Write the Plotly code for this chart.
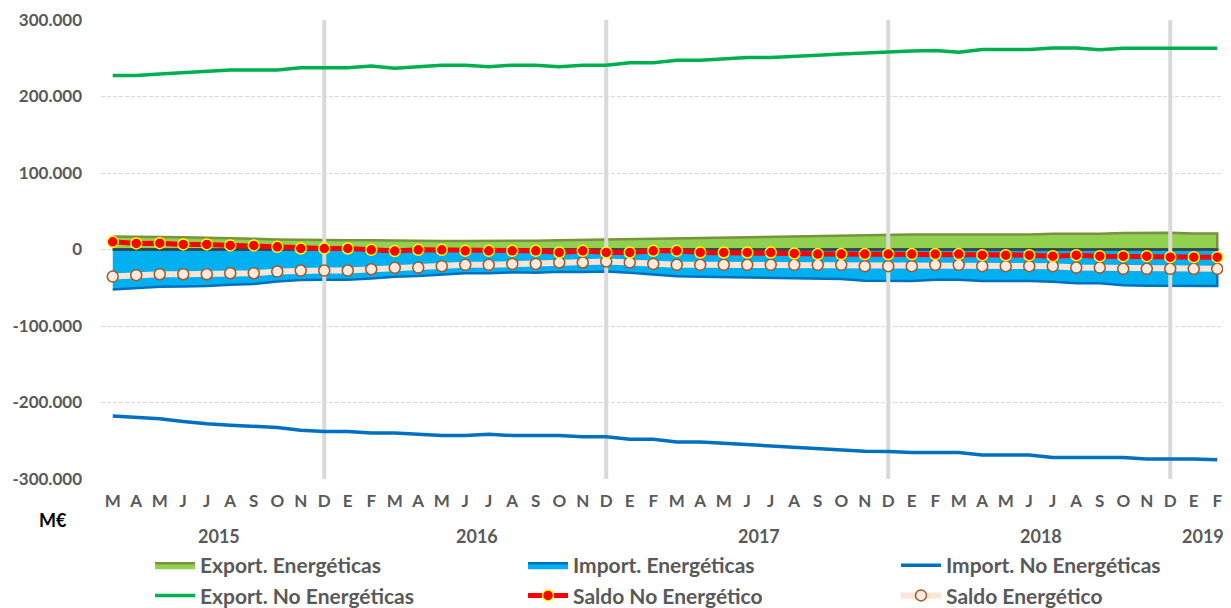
import plotly.graph_objects as go

# ---------------- data (M€) ----------------
months = ["M", "A", "M", "J", "J", "A", "S", "O", "N", "D",
          "E", "F", "M", "A", "M", "J", "J", "A", "S", "O", "N", "D",
          "E", "F", "M", "A", "M", "J", "J", "A", "S", "O", "N", "D",
          "E", "F", "M", "A", "M", "J", "J", "A", "S", "O", "N", "D",
          "E", "F"]
years = ["2015", "2016", "2017", "2018", "2019"]
year_centers = [4.5, 15.5, 27.5, 39.5, 46.4]
dividers = [9, 21, 33, 45]

export_e = [17000, 17000, 16500, 16000, 15500, 15000, 14000, 13000, 12500, 12000,
            12000, 12000, 11500, 11000, 11000, 11000, 11000, 11000, 11500, 12000, 12500, 13000,
            13500, 14000, 15000, 15500, 16000, 16500, 17000, 17500, 18000, 18500, 19000, 19500,
            19500, 19500, 19500, 19500, 19500, 19500, 20500, 20500, 20500, 21500, 22000, 22000,
            21000, 21000]
import_e = [-52400, -50600, -48800, -48300, -47800, -46000, -45000, -41800, -40000, -39500,
            -39500, -37800, -35500, -34600, -32800, -31000, -31000, -29800, -30300, -29000, -29500, -28700,
            -30500, -32800, -35000, -35500, -36000, -36500, -37000, -37500, -38000, -38500, -40800, -41300,
            -41300, -39500, -39500, -41300, -41300, -41300, -42300, -44100, -44100, -46800, -47300, -47300,
            -47300, -47800]
export_ne = [227600, 227600, 229300, 231000, 232800, 234500, 234500, 234500, 237500, 237500,
             237500, 240000, 237000, 239000, 241000, 241000, 239000, 241000, 241000, 239000, 241000, 241000,
             244000, 244000, 247500, 247500, 249500, 251000, 251000, 253000, 254000, 255500, 257000, 258000,
             259500, 260000, 258000, 261500, 261500, 261500, 263500, 263500, 261000, 263000, 263000, 263000,
             263000, 263000]
import_ne = [-217800, -219600, -221300, -224800, -227800, -229600, -231000, -232700, -236200, -237900,
             -238000, -240000, -240000, -241900, -243200, -243200, -241400, -243200, -243200, -243200, -244900, -244900,
             -248000, -248000, -251500, -251500, -253200, -255000, -255900, -257600, -259400, -261300, -263700, -264000,
             -265500, -265500, -265500, -268500, -268500, -268500, -272000, -272000, -272000, -272000, -273800, -273800,
             -273800, -275000]
saldo_ne = [10000, 8000, 8300, 6600, 6600, 5300, 5300, 3500, 1300, 1300,
            1300, -400, -2100, -400, -400, -1700, -1700, -1700, -1700, -3900, -1700, -3900,
            -3900, -1700, -1700, -3900, -3900, -3900, -3900, -5200, -6000, -6000, -6000, -6000,
            -6000, -6000, -6000, -7400, -7400, -7400, -8700, -7400, -8700, -8700, -8700, -10000,
            -10000, -10000]
saldo_e = [-35400, -33600, -32300, -32300, -32300, -31000, -31000, -28800, -27500, -27500,
           -27500, -25800, -24000, -23600, -21800, -20000, -20000, -18800, -18800, -17000, -17000, -15700,
           -17000, -18800, -20000, -20000, -20000, -20000, -20000, -20000, -20000, -20000, -21800, -21800,
           -21800, -20000, -20000, -21800, -21800, -21800, -21800, -23600, -23600, -25300, -25300, -25300,
           -25300, -25300]

y_ticks = [-300000, -200000, -100000, 0, 100000, 200000, 300000]
y_tick_text = ["-300.000", "-200.000", "-100.000", "0", "100.000", "200.000", "300.000"]

# ---------------- figure ----------------
FONT = "Lato"
GRAY_TXT = "#595959"
# page body has an 8px margin: the figure is sized to the remaining viewport
W, H = 1223, 600
x = list(range(len(months)))
fig = go.Figure()

# Export energéticas (area)
fig.add_trace(go.Scatter(
    x=x + [x[-1], x[0]], y=export_e + [0, 0], mode="lines", fill="toself",
    fillcolor="#92D050", line=dict(color="#77933C", width=2.5),
    name="Export. Energéticas", legendrank=1, hoverinfo="skip"))
# Import energéticas (area)
fig.add_trace(go.Scatter(
    x=x + [x[-1], x[0]], y=import_e + [0, 0], mode="lines", fill="toself",
    fillcolor="#00B0F0", line=dict(color="#0070C0", width=2.5),
    name="Import. Energéticas", legendrank=2, hoverinfo="skip"))
# zero edge between the areas
fig.add_trace(go.Scatter(
    x=[x[0], x[-1]], y=[0, 0], mode="lines", line=dict(color="#404040", width=2.5),
    showlegend=False, hoverinfo="skip"))
# year-end dividers
for d in dividers:
    fig.add_trace(go.Scatter(
        x=[d, d], y=[y_ticks[0], y_ticks[-1]], mode="lines",
        line=dict(color="#D9D9D9", width=4), showlegend=False, hoverinfo="skip"))

fig.add_trace(go.Scatter(
    x=x, y=export_ne, mode="lines", line=dict(color="#00B050", width=3.5),
    name="Export. No Energéticas", legendrank=4))
fig.add_trace(go.Scatter(
    x=x, y=import_ne, mode="lines", line=dict(color="#0070C0", width=3.5),
    name="Import. No Energéticas", legendrank=3))
fig.add_trace(go.Scatter(
    x=x, y=saldo_e, mode="lines+markers", line=dict(color="#FBE5D6", width=6),
    marker=dict(size=11, color="#FCEADE", line=dict(color="#A0582A", width=1.5)),
    name="Saldo Energético", legendrank=6))
fig.add_trace(go.Scatter(
    x=x, y=saldo_ne, mode="lines+markers", line=dict(color="#FF0000", width=5),
    marker=dict(size=11, color="#FF0000", line=dict(color="#FFFF00", width=1.5)),
    name="Saldo No Energético", legendrank=5))

annotations = []
for yr, c in zip(years, year_centers):
    annotations.append(dict(x=c, xref="x", y=-0.1235, yref="paper", text=yr,
                            showarrow=False, yanchor="middle",
                            font=dict(family=FONT, size=18, color=GRAY_TXT, weight="bold")))
annotations.append(dict(x=-0.0425, xref="paper", y=-0.0893, yref="paper", text="M€",
                        showarrow=False, yanchor="middle", xanchor="center",
                        font=dict(family=FONT, size=18, color="#000000", weight="bold")))

fig.update_layout(
    width=W, height=H,
    margin=dict(l=93, r=2, t=12, b=129, autoexpand=False),
    paper_bgcolor="white", plot_bgcolor="white",
    showlegend=True,
    legend=dict(orientation="h", xref="container", x=142 / W, xanchor="left",
                yref="container", y=1 - 537 / H, yanchor="top",
                entrywidth=318, entrywidthmode="pixels", itemwidth=40,
                font=dict(family=FONT, size=21, color=GRAY_TXT, weight="bold"),
                traceorder="normal", bgcolor="rgba(0,0,0,0)"),
    annotations=annotations,
    xaxis=dict(range=[-0.5, len(months) - 0.5], tickmode="array", tickvals=x, ticktext=months,
               showgrid=False, zeroline=False, showline=False, ticks="",
               ticklabelstandoff=10, automargin=False,
               tickfont=dict(family=FONT, size=17, color=GRAY_TXT, weight="bold")),
    yaxis=dict(range=[y_ticks[0], y_ticks[-1]], tickmode="array", tickvals=y_ticks, ticktext=y_tick_text,
               showgrid=True, gridcolor="#D9D9D9", griddash="4px,2px", gridwidth=1,
               zeroline=False, showline=False, ticks="", ticklabelstandoff=18, automargin=False,
               tickfont=dict(family=FONT, size=17, color=GRAY_TXT, weight="bold")),
    hovermode=False,
)

fig.write_html("out.html")
